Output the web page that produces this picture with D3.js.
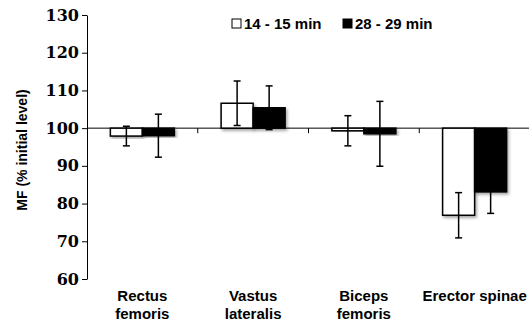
<!DOCTYPE html>
<html>
<head>
<meta charset="utf-8">
<script src="https://cdn.jsdelivr.net/npm/d3@7"></script>
<style>
  body { margin: 0; background: #fff; }
  svg { display: block; }
  svg .ytl { font-family: "DejaVu Serif", serif; font-weight: bold; font-size: 16px; }
</style>
</head>
<body>
<svg id="chart"></svg>
<script>
// data
const categories = [["Rectus", "femoris"], ["Vastus", "lateralis"], ["Biceps", "femoris"], ["Erector spinae"]];
const seriesNames = ["14 - 15 min", "28 - 29 min"];
const seriesColors = ["#fff", "#000"];
const means15 = [97.9, 106.6, 99.3, 76.9];
const sd15 = [2.6, 5.9, 4.0, 6.0];
const means28 = [98.0, 105.4, 98.5, 83.1];
const sd28 = [5.7, 5.8, 8.6, 5.7];
const yTicks = [60, 70, 80, 90, 100, 110, 120, 130];

const width = 529, height = 324;
const baseline = 100;
const sans = '"Liberation Sans", Arial, sans-serif';

const svg = d3.select('#chart').attr('width', width).attr('height', height);

const defs = svg.append('defs');
const shadow = defs.append('filter').attr('id', 'shadow')
  .attr('x', '-20%').attr('y', '-20%').attr('width', '150%').attr('height', '150%');
shadow.append('feDropShadow').attr('dx', 1.5).attr('dy', 2).attr('stdDeviation', 1.5)
  .attr('flood-color', '#000').attr('flood-opacity', 0.35);

const catKeys = categories.map(c => c.join(' '));
const x = d3.scaleBand().domain(catKeys).range([87, 530]).padding(0);
const xs = d3.scaleBand().domain(seriesNames).range([0, x.bandwidth()]).paddingInner(0).paddingOuter(0.73);
const y = d3.scaleLinear().domain([60, 130]).range([279, 15]);

// y axis: line and ticks from d3, labels drawn separately
const yAxis = svg.append('g')
  .attr('transform', 'translate(87,0)')
  .call(d3.axisLeft(y).tickValues(yTicks).tickSize(5).tickSizeOuter(0).tickFormat(''));
yAxis.select('.domain').attr('stroke', '#000').attr('stroke-width', 1);
yAxis.selectAll('.tick line').attr('stroke', '#000');

svg.selectAll('.ytl')
  .data(yTicks)
  .enter().append('text')
  .attr('class', 'ytl')
  .attr('text-anchor', 'end')
  .attr('x', 79)
  .attr('y', d => y(d))
  .attr('dy', '0.35em')
  .attr('fill', '#000')
  .text(d => d);

// baseline at 100 with category ticks
svg.append('line')
  .attr('x1', 87).attr('x2', 529)
  .attr('y1', y(baseline)).attr('y2', y(baseline))
  .attr('stroke', '#000').attr('stroke-width', 1);
svg.selectAll('.ctick')
  .data(catKeys.slice(1))
  .enter().append('line')
  .attr('x1', d => x(d)).attr('x2', d => x(d))
  .attr('y1', y(baseline)).attr('y2', y(baseline) + 5)
  .attr('stroke', '#000');

// bars
const rows = catKeys.map((k, i) => ({
  key: k,
  vals: [
    { s: seriesNames[0], m: means15[i], sd: sd15[i], c: seriesColors[0] },
    { s: seriesNames[1], m: means28[i], sd: sd28[i], c: seriesColors[1] }
  ]
}));

const groups = svg.selectAll('.grp')
  .data(rows)
  .enter().append('g')
  .attr('class', 'grp')
  .attr('transform', d => `translate(${x(d.key)},0)`);

groups.selectAll('rect')
  .data(d => d.vals)
  .enter().append('rect')
  .attr('x', d => xs(d.s))
  .attr('width', xs.bandwidth())
  .attr('y', d => Math.min(y(d.m), y(baseline)))
  .attr('height', d => Math.abs(y(d.m) - y(baseline)))
  .attr('fill', d => d.c)
  .attr('stroke', '#000')
  .attr('stroke-width', 1.5)
  .attr('filter', 'url(#shadow)');

// error bars
const eb = groups.selectAll('.err')
  .data(d => d.vals)
  .enter().append('g')
  .attr('class', 'err')
  .attr('transform', d => `translate(${xs(d.s) + xs.bandwidth() / 2},0)`);
eb.append('line')
  .attr('y1', d => y(d.m - d.sd)).attr('y2', d => y(d.m + d.sd))
  .attr('stroke', '#000').attr('stroke-width', 1.5);
eb.selectAll('.cap')
  .data(d => [d.m - d.sd, d.m + d.sd])
  .enter().append('line')
  .attr('x1', -3.5).attr('x2', 3.5)
  .attr('y1', v => y(v)).attr('y2', v => y(v))
  .attr('stroke', '#000').attr('stroke-width', 1.5);

// category labels
const cl = svg.selectAll('.cat')
  .data(categories)
  .enter().append('text')
  .style('font-family', sans).style('font-weight', '700')
  .style('font-size', '15px')
  .attr('text-anchor', 'middle')
  .attr('x', (d, i) => x(catKeys[i]) + x.bandwidth() / 2)
  .attr('y', 301);
cl.selectAll('tspan')
  .data(d => d)
  .enter().append('tspan')
  .attr('x', function () { return d3.select(this.parentNode).attr('x'); })
  .attr('dy', (d, i) => i === 0 ? 0 : 18)
  .text(d => d);

// y title
svg.append('text')
  .style('font-family', sans).style('font-weight', '700')
  .style('font-size', '14px')
  .attr('text-anchor', 'middle')
  .attr('transform', 'translate(27,150) rotate(-90)')
  .text('MF (% initial level)');

// legend
const legX = d3.scaleOrdinal().domain(seriesNames).range([232, 343]);
const leg = svg.selectAll('.leg')
  .data(seriesNames)
  .enter().append('g')
  .attr('transform', d => `translate(${legX(d)},19)`);
leg.append('rect')
  .attr('width', 9).attr('height', 9)
  .attr('fill', (d, i) => seriesColors[i])
  .attr('stroke', '#000').attr('stroke-width', 1);
leg.append('text')
  .style('font-family', sans).style('font-weight', '700')
  .style('font-size', '15px')
  .attr('x', 12).attr('y', 10)
  .text(d => d);
</script>
</body>
</html>
